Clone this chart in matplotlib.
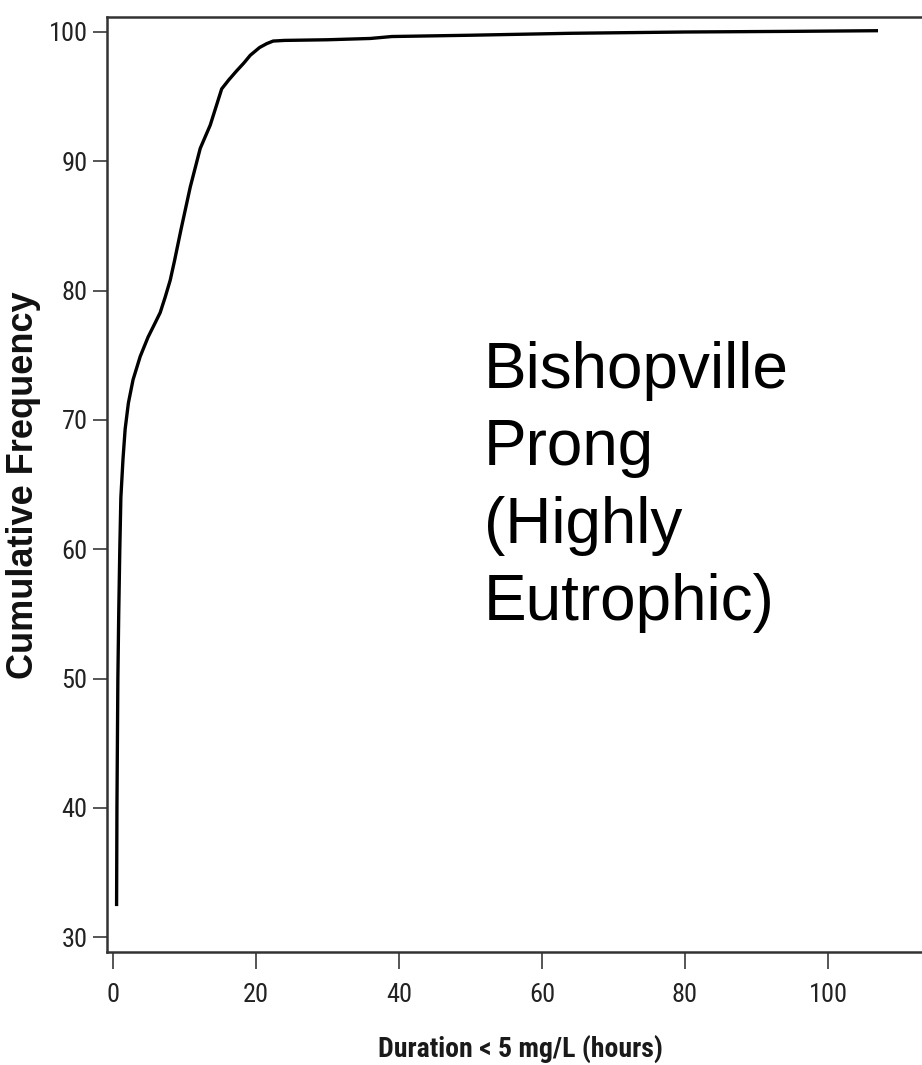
import matplotlib
matplotlib.use("Agg")
import matplotlib.pyplot as plt
from matplotlib import font_manager

# ------------------------------------------------
# Data
# ------------------------------------------------
duration = [0.5, 0.55, 0.68, 0.8, 0.95, 1.1, 1.4, 1.7, 2.15, 2.8, 3.8, 4.9,
            5.8, 6.6, 7.3, 8.0, 8.6, 9.5, 10.8, 12.2, 13.6, 15.2, 16.2, 17.3,
            18.3, 19.2, 20.5, 21.5, 22.4, 24, 30, 36, 39, 50, 64, 80, 95, 107]
cum_freq = [32.4, 40, 50, 55, 60, 64, 67, 69.3, 71.3, 73.1, 74.9, 76.4,
            77.4, 78.3, 79.5, 80.8, 82.3, 84.7, 88.0, 91.0, 92.8, 95.6, 96.3, 97.0,
            97.6, 98.2, 98.8, 99.1, 99.3, 99.35, 99.4, 99.5, 99.65, 99.75, 99.9, 100.0, 100.05, 100.1]

x_ticks = [0, 20, 40, 60, 80, 100]
y_ticks = [30, 40, 50, 60, 70, 80, 90, 100]

site_label = "Bishopville\nProng\n(Highly\nEutrophic)"


# ------------------------------------------------
# Find a narrow / condensed sans face, if one is installed
# ------------------------------------------------
def find_narrow(bold=False):
    prefer = ["liberation sans narrow", "roboto condensed", "open sans condensed",
              "dejavu sans condensed", "noto sans condensed", "arial narrow"]
    found = []
    for f in font_manager.fontManager.ttflist:
        name = f.name.lower()
        fname = f.fname.lower()
        if "mono" in name or "serif" in name or "cjk" in name:
            continue
        if f.style != "normal" or "italic" in fname or "oblique" in fname:
            continue
        narrowish = ("narrow" in name or "condensed" in name or "narrow" in fname
                     or "condensed" in fname or f.stretch in ("condensed", "semi-condensed"))
        if not narrowish or "extra" in fname or "semi" in fname:
            continue
        is_bold = f.weight in ("bold", 700) or "bold" in fname
        if is_bold != bold:
            continue
        rank = len(prefer)
        for i, p in enumerate(prefer):
            if p in name or p.replace(" ", "") in fname.replace("-", ""):
                rank = i
                break
        found.append((rank, f.fname))
    if not found:
        return None
    found.sort()
    return found[0][1]


narrow_regular = find_narrow(False)
narrow_bold = find_narrow(True)

if narrow_regular:
    tick_font = font_manager.FontProperties(fname=narrow_regular, size=19)
else:
    tick_font = font_manager.FontProperties(family="Liberation Sans", size=17)
if narrow_bold:
    xlabel_font = font_manager.FontProperties(fname=narrow_bold, size=20)
elif narrow_regular:
    xlabel_font = font_manager.FontProperties(fname=narrow_regular, size=22)
else:
    xlabel_font = font_manager.FontProperties(family="Liberation Sans", size=19)

# ------------------------------------------------
# Figure
# ------------------------------------------------
fig = plt.figure(figsize=(9.22, 10.65), dpi=100)
ax = fig.add_axes([107 / 922, 113 / 1065, 1 - 107 / 922, 935 / 1065])

ax.plot(duration, cum_freq, color="black", linewidth=2.4, solid_capstyle="butt")

ax.set_xlim(-0.84, 113.15)
ax.set_ylim(28.85, 101.16)
ax.set_xticks(x_ticks)
ax.set_yticks(y_ticks)

for side in ["top", "bottom", "left"]:
    ax.spines[side].set_linewidth(1.8)
    ax.spines[side].set_color("#333333")
ax.spines["right"].set_visible(False)

ax.tick_params(axis="x", length=12.5, width=1.4, color="#555555", pad=10,
               labelcolor="#222222")
ax.tick_params(axis="y", length=10, width=1.4, color="#555555", pad=4,
               labelcolor="#222222")
for lbl in ax.get_xticklabels() + ax.get_yticklabels():
    lbl.set_fontproperties(tick_font)

fig.text(24 / 922, 1 - 485 / 1065, "Cumulative Frequency", rotation=90,
         ha="center", va="center", fontsize=26, fontweight="bold",
         family="Liberation Sans", color="#111111")
fig.text(520 / 922, 1 - 1057 / 1065, "Duration < 5 mg/L (hours)",
         ha="center", va="baseline", fontproperties=xlabel_font, color="#1a1a1a")

# va="baseline" on multi-line text lines up the last line's baseline
fig.text(484 / 922, 1 - 620 / 1065, site_label, ha="left", va="baseline",
         fontsize=46, family="Liberation Sans", linespacing=1.37, color="black")

fig.savefig("out.png", dpi=100)
